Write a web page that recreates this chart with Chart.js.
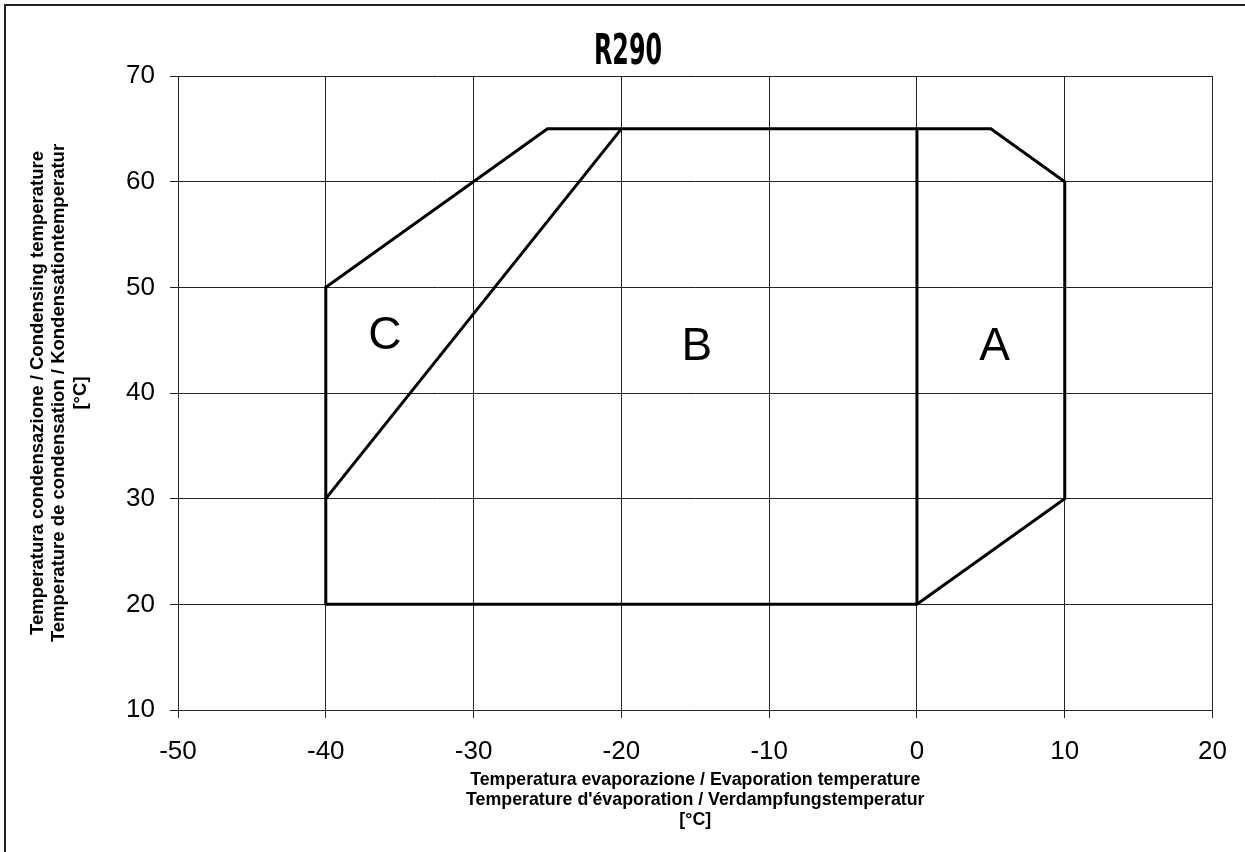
<!DOCTYPE html>
<html>
<head>
<meta charset="utf-8">
<script src="https://cdn.jsdelivr.net/npm/chart.js@4/dist/chart.umd.min.js"></script>
<style>
  html, body { margin: 0; padding: 0; background: #fff; }
  #wrap { width: 1245px; height: 852px; position: relative; }
</style>
</head>
<body>
<div id="wrap"><canvas id="myChart"></canvas></div>
<script>
// chart texts
let chartTitle = "R290";
let xTitle = [
  "Temperatura evaporazione / Evaporation temperature",
  "Temperature d'évaporation / Verdampfungstemperatur",
  "[°C]",
];
let yTitle = [
  "Temperatura condensazione / Condensing temperature",
  "Temperature de condensation / Kondensationtemperatur",
  "[°C]",
];

// axis ranges
let xRange = [-50, 20];
let yRange = [10, 70];
let tickStep = 10;

// envelope outline (evaporation, condensing)
let outerX = [-40, -40, -25, 5, 10, 10, 0, -40];
let outerY = [20, 50, 65, 65, 60, 30, 20, 20];
// split A / B
let splitAX = [0, 0];
let splitAY = [20, 65];
// split B / C
let splitCX = [-40, -20];
let splitCY = [30, 65];

// zone letters
let zoneNames = ["A", "B", "C"];
let zoneX = [5.25, -14.9, -36];
let zoneY = [44.3, 44.3, 45.4];

const tickFont = "Liberation Sans, Arial, sans-serif";

function toPoints(xs, ys) {
  return xs.map((x, i) => ({ x: x, y: ys[i] }));
}

function lineSet(xs, ys) {
  return {
    data: toPoints(xs, ys),
    showLine: true,
    borderColor: "#000",
    borderWidth: 3,
    pointRadius: 0,
    fill: false,
    tension: 0,
  };
}

// title, frame and zone letters
const extras = {
  id: "extras",
  afterDraw(chart) {
    const ctx = chart.ctx;
    ctx.save();
    // outer frame (left and top only)
    ctx.fillStyle = "#222";
    ctx.fillRect(4, 4, 1245, 2);
    ctx.fillRect(4, 4, 2, 852);

    // title in a condensed face
    ctx.font = 'bold 43px "Liberation Sans Narrow", "DejaVu Sans Condensed", sans-serif';
    ctx.fillStyle = "#000";
    ctx.textAlign = "center";
    ctx.textBaseline = "alphabetic";
    let w = ctx.measureText(chartTitle).width;
    ctx.translate(628, 64);
    ctx.scale(68 / w, 1);
    ctx.fillText(chartTitle, 0, 0);
    ctx.restore();

    ctx.save();
    ctx.font = "46px " + tickFont;
    ctx.fillStyle = "#000";
    ctx.textAlign = "center";
    ctx.textBaseline = "middle";
    const xs = chart.scales.x;
    const ys = chart.scales.y;
    zoneNames.forEach((name, i) => {
      ctx.fillText(name, xs.getPixelForValue(zoneX[i]), ys.getPixelForValue(zoneY[i]));
    });
    ctx.restore();
  },
};

const config = {
  type: "scatter",
  data: {
    datasets: [
      lineSet(outerX, outerY),
      lineSet(splitAX, splitAY),
      lineSet(splitCX, splitCY),
    ],
  },
  options: {
    responsive: true,
    maintainAspectRatio: false,
    animation: false,
    layout: {
      padding: { left: 0, top: 76, right: 32, bottom: 0 },
    },
    plugins: {
      legend: { display: false },
      tooltip: { enabled: false },
    },
    scales: {
      x: {
        type: "linear",
        min: xRange[0],
        max: xRange[1],
        ticks: {
          stepSize: tickStep,
          color: "#000",
          padding: 18,
          font: { family: tickFont, size: 26 },
        },
        grid: { color: "#222", lineWidth: 1, tickLength: 8 },
        border: { color: "#222", width: 1 },
        title: {
          display: true,
          text: xTitle,
          color: "#000",
          font: { family: tickFont, size: 17.8, weight: "bold", lineHeight: "20px" },
          padding: { top: 0, bottom: 22 },
        },
        afterFit(scale) {
          scale.height = 142;
        },
      },
      y: {
        type: "linear",
        min: yRange[0],
        max: yRange[1],
        ticks: {
          stepSize: tickStep,
          color: "#000",
          padding: 15,
          font: { family: tickFont, size: 26 },
        },
        grid: { color: "#222", lineWidth: 1, tickLength: 8 },
        border: { color: "#222", width: 1 },
        title: {
          display: true,
          text: yTitle,
          color: "#000",
          font: { family: tickFont, size: 18.5, weight: "bold", lineHeight: "21.5px" },
          padding: { top: 27, bottom: 0 },
        },
        afterFit(scale) {
          scale.width = 178;
        },
      },
    },
  },
  plugins: [extras],
};

let myChart = new Chart(document.querySelector("#myChart"), config);
</script>
</body>
</html>
